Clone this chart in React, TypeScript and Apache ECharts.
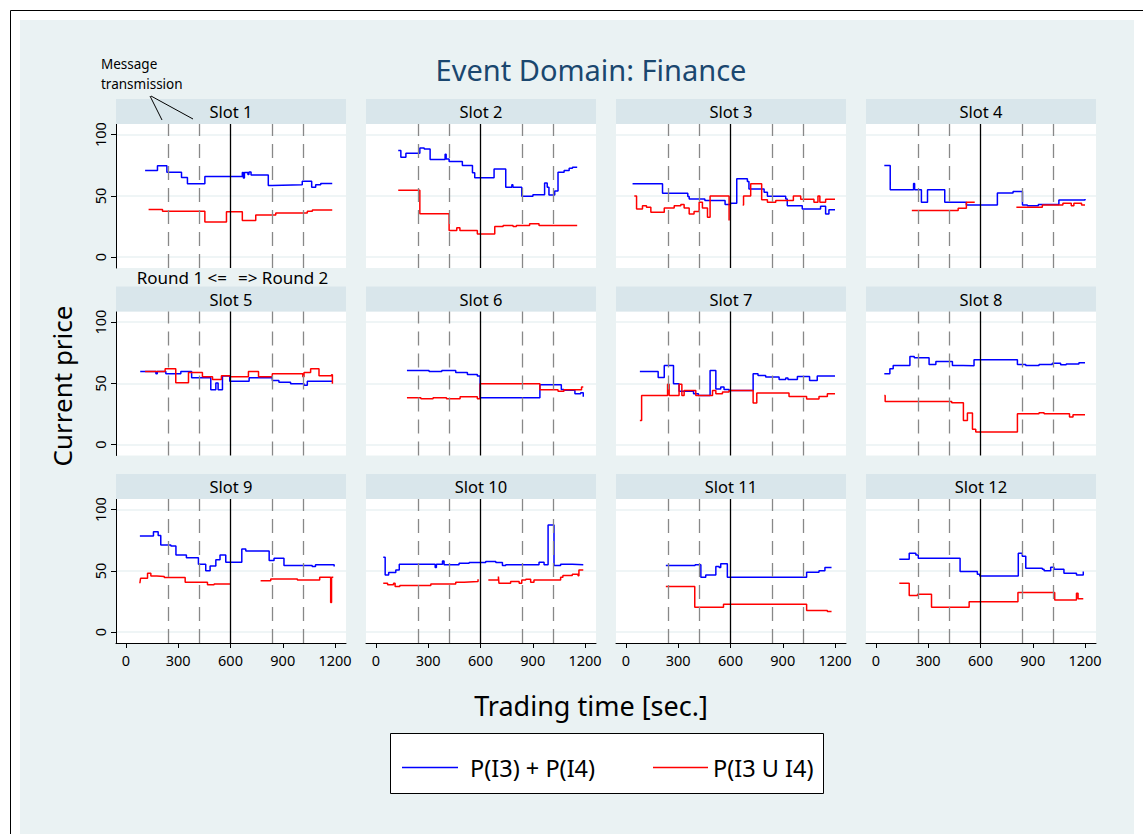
import React, { useEffect, useRef } from 'react';
import * as echarts from 'echarts';

const FONT = '"Noto Sans", "DejaVu Sans", sans-serif';

const slotNames = ['Slot 1', 'Slot 2', 'Slot 3', 'Slot 4', 'Slot 5', 'Slot 6', 'Slot 7', 'Slot 8', 'Slot 9', 'Slot 10', 'Slot 11', 'Slot 12'];
const xTicks = [0, 300, 600, 900, 1200];
const yTicks = [0, 50, 100];
const dashedRefs = [240, 420, 840, 1020];
const solidRef = 600;
const legendLabels = ['P(I3) + P(I4)', 'P(I3 U I4)'];

// [time (sec), price]; null = gap
const blue1 = [[110,70.7],[181,74.5],[235,69.3],[319,65],[353,59.8],[453,65.8],[668,69],[674,64.5],[680,69],[700,67.5],[706,69.5],[718,67],[817,58.5],[840,59],[1012,62],[1066,57],[1089,59],[1118,60],[1184,60]];
const red1 = [[130,38.9],[210,37.5],[453,28.8],[577,37],[668,30],[745,34.5],[860,36],[1041,37.5],[1070,38.5],[1184,38.5]];
const blue2 = [[128,87],[143,81.5],[172,84.8],[252,89.1],[277,88.3],[311,79.6],[397,84],[403,80],[420,78],[496,74.7],[554,68.8],[567,64.7],[678,72],[745,57],[780,59],[786,57],[837,49.7],[901,51],[968,60.6],[983,57],[993,50.8],[1026,54],[1045,69.3],[1080,70.6],[1109,72.5],[1128,73.3],[1155,73.3]];
const red2 = [[128,54.6],[252,35.4],[420,21.8],[464,24],[482,21.8],[582,19],[682,25],[730,25.8],[787,25],[806,25.8],[882,27.2],[936,25.8],[1155,25.8]];
const blue3 = [[38,59.8],[210,52.2],[355,49.4],[363,47.5],[453,46.2],[569,42.9],[600,44],[636,63.9],[697,61.7],[706,55.7],[793,53],[812,49.7],[917,47.5],[926,42],[1012,39.4],[1117,41.5],[1146,35.3],[1165,38.6],[1200,38.6]];
const red3 = [[48,49.8],[61,39.4],[95,42],[118,40.8],[143,36.7],[220,40.2],[277,42],[315,42.9],[334,40.2],[363,35.3],[391,37.2],[420,44.8],[439,40.2],[468,32.6],[483,49.8],[592,29.9],[600,null],[670,42.6],[675,49.8],[716,59.8],[779,46.9],[812,44.8],[860,46.2],[961,49.8],[1003,47.2],[1079,44.8],[1102,49.8],[1113,44.8],[1146,47.2],[1200,47.2]];
const blue4 = [[48,74.7],[82,54.9],[216,60],[222,54.9],[261,44.8],[296,54.9],[395,44.8],[519,42.6],[697,52.4],[787,53.5],[841,42.6],[869,42],[932,42.9],[1050,46.7],[1200,47.5]];
const red4 = [[206,38],[472,40],[519,44.8],[567,44.8],[580,null],[806,40.8],[955,42.6],[1073,44],[1121,42],[1136,44],[1180,42.6],[1200,42.6]];
const blue5 = [[82,59.7],[172,57.8],[180,59.7],[229,57.8],[315,59.7],[377,54.6],[487,44.8],[516,50.3],[529,44.8],[554,56],[596,51.8],[707,54.6],[840,52.3],[878,51],[945,49.7],[1022,48.4],[1041,51.8],[1184,51.8]];
const red5 = [[110,59.7],[225,61.9],[286,50.5],[359,58.9],[439,55.4],[497,53.2],[548,56.2],[596,55.4],[703,59.7],[761,55.4],[840,57.8],[1015,55.4],[1022,58.9],[1060,61.9],[1108,56.2],[1180,57],[1185,49.7]];
const blue6 = [[178,60.6],[305,59.7],[378,60.6],[458,58.9],[525,57.3],[582,56],[598,38.3],[941,48.8],[1064,45],[1079,44.3],[1142,41.5],[1175,42.4],[1190,39]];
const red6 = [[178,38.3],[258,37.5],[328,38.3],[405,37.5],[483,39],[582,37.5],[598,49.7],[941,44.8],[1045,43.5],[1079,44.8],[1180,47],[1190,47]];
const blue7 = [[80,59.7],[185,54.8],[220,64.6],[273,49.7],[305,43.5],[388,41.6],[416,40.2],[483,60.6],[516,45.5],[544,47],[563,45],[592,44.2],[730,57.8],[758,56.4],[802,55.1],[879,53.2],[917,54.3],[930,53.2],[984,55.6],[1054,52.3],[1098,56],[1200,56]];
const red7 = [[80,19.8],[90,40.2],[239,49.2],[248,40.2],[305,49.2],[321,40.2],[334,44.2],[401,40.2],[497,44.2],[516,41.6],[554,43],[592,44.2],[730,34.1],[751,42.1],[936,39.4],[1037,37.2],[1108,39.4],[1156,41.6],[1200,41.6]];
const blue8 = [[48,57.8],[80,61.9],[99,64.6],[195,72],[220,70.9],[305,65.4],[344,67.9],[439,64.6],[500,64.4],[563,69.2],[812,65.4],[860,64.6],[936,65.4],[1012,66.5],[1060,65.1],[1092,65.7],[1165,66.8],[1200,66.8]];
const red8 = [[48,40.2],[53,35.3],[435,34.2],[502,19.8],[525,25.8],[554,12.5],[573,10.3],[812,25.2],[936,26],[965,25.2],[1111,22.5],[1131,24.4],[1200,24.4]];
const blue9 = [[80,78.5],[158,82],[185,78.8],[200,71],[258,70.2],[287,63],[347,60.8],[416,55.4],[458,50.2],[483,54],[516,59],[540,63],[573,57],[665,67.9],[688,66.3],[822,58.4],[850,60.3],[907,54.3],[1069,53.5],[1088,54.9],[1184,54.9],[1195,53.5]];
const red9 = [[80,39.9],[84,44],[124,48.1],[143,45.9],[177,45.4],[220,44.6],[340,40.8],[468,38.6],[506,39.4],[597,39.4],[600,null],[773,42],[831,43.4],[984,42.6],[1112,44.8],[1175,24.3],[1180,44.8],[1190,44.8]];
const blue10 = [[42,61.1],[53,46.7],[73,48.6],[114,50.8],[134,55.4],[340,52.7],[347,55.4],[382,58],[391,54.9],[477,56.2],[535,56.8],[630,57.6],[688,56.8],[726,54.3],[745,54.9],[936,57],[965,54.9],[988,87.4],[1022,54.3],[1060,55.4],[1127,54.9],[1190,55.4]];
const red10 = [[42,39.9],[67,38.6],[101,39.9],[110,37.2],[137,38],[315,39.2],[458,40.8],[506,41.3],[586,43.2],[590,null],[645,42.6],[703,45.4],[706,39.9],[773,41.3],[822,39.9],[837,42.6],[860,43.2],[888,40.8],[907,42.6],[1060,44.8],[1073,46.2],[1127,47.3],[1160,46],[1165,50.8],[1190,50.8]];
const blue11 = [[229,54.3],[397,54.9],[430,44.8],[458,46.7],[516,53.5],[535,52.7],[544,55.9],[582,44.8],[1037,48.9],[1108,50.2],[1142,52.7],[1180,52.7]];
const red11 = [[229,37.2],[395,20.4],[560,22.8],[1037,17.6],[1156,16.8],[1180,16.8]];
const blue12 = [[134,59.5],[191,64.4],[229,63],[243,60.3],[483,49.4],[582,47.3],[596,45.9],[817,64.4],[840,62],[860,52.2],[955,51.4],[965,50.2],[1003,52.9],[1022,51.4],[1079,48.1],[1151,46.7],[1190,49.5]];
const red12 = [[134,39.9],[191,29.9],[239,31],[319,20.4],[535,24.9],[815,32.3],[1026,26.3],[1151,31.8],[1160,27.2],[1190,27.2]];

const blueSeries = [blue1, blue2, blue3, blue4, blue5, blue6, blue7, blue8, blue9, blue10, blue11, blue12];
const redSeries = [red1, red2, red3, red4, red5, red6, red7, red8, red9, red10, red11, red12];

const BLUE = '#0000ff';
const RED = '#ff0000';
const BG = '#eaf2f3';
const HEADER = '#d9e6eb';

function splitSegments(arr: (number | null)[][]) {
  const segs: number[][][] = [];
  let cur: number[][] = [];
  for (const p of arr) {
    if (p[1] === null) {
      if (cur.length) segs.push(cur);
      cur = [];
    } else {
      cur.push(p as number[]);
    }
  }
  if (cur.length) segs.push(cur);
  return segs;
}

function buildOption() {
  const grids: any[] = [];
  const xAxes: any[] = [];
  const yAxes: any[] = [];
  const series: any[] = [];
  const elements: any[] = [];

  // backgrounds
  elements.push({ type: 'rect', z: -20, shape: { x: 10.5, y: 10.5, width: 1160, height: 900 }, style: { fill: '#fff', stroke: '#000', lineWidth: 1 } });
  elements.push({ type: 'rect', z: -19, shape: { x: 20, y: 20, width: 1114, height: 830 }, style: { fill: BG } });

  for (let i = 0; i < 12; i++) {
    const r = Math.floor(i / 4);
    const c = i % 4;
    const left = 116 + 250 * c;
    const top = 124 + 187.5 * r;
    grids.push({ left, top, width: 230, height: 144, show: true, backgroundColor: '#fff', borderWidth: 0, containLabel: false });
    xAxes.push({
      type: 'value', gridIndex: i, min: -57, max: 1263,
      axisLine: { show: r === 2, onZero: false, lineStyle: { color: '#000', width: 1 } },
      axisTick: { show: r === 2, customValues: xTicks, length: 5, lineStyle: { color: '#000' } },
      axisLabel: { show: r === 2, customValues: xTicks, formatter: (v: number) => String(v), color: '#000', fontSize: 14.5, fontFamily: FONT, margin: 9 },
      splitLine: { show: false },
    });
    yAxes.push({
      type: 'value', gridIndex: i, min: -8.8, max: 108.6,
      axisLine: { show: c === 0, onZero: false, lineStyle: { color: '#000', width: 1 } },
      axisTick: { show: c === 0, customValues: yTicks, length: 5, lineStyle: { color: '#000' } },
      axisLabel: { show: c === 0, customValues: yTicks, formatter: (v: number) => String(v), rotate: 90, color: '#000', fontSize: 14.5, fontFamily: FONT, margin: 9 },
      splitLine: { show: true, lineStyle: { color: BG, width: 1.5 } },
    });
    // reference lines
    series.push({
      type: 'line', xAxisIndex: i, yAxisIndex: i, data: [], silent: true, z: 1,
      markLine: {
        silent: true, symbol: ['none', 'none'], label: { show: false }, animation: false,
        data: [
          ...dashedRefs.map((v) => ({ xAxis: v, lineStyle: { type: [14, 8], color: '#888', width: 1.3 } })),
          { xAxis: solidRef, lineStyle: { type: 'solid', color: '#000', width: 1.3 } },
        ],
      },
    });
    const addSeries = (arr: any[], color: string, name: string) => {
      for (const seg of splitSegments(arr)) {
        series.push({
          type: 'line', name, xAxisIndex: i, yAxisIndex: i, data: seg, step: 'end',
          showSymbol: false, symbol: 'none', silent: true, z: 3,
          lineStyle: { color, width: 1.5 },
        });
      }
    };
    addSeries(blueSeries[i], BLUE, legendLabels[0]);
    addSeries(redSeries[i], RED, legendLabels[1]);

    // header strip
    elements.push({ type: 'rect', z: 5, shape: { x: left, y: top - 25, width: 230, height: 25 }, style: { fill: HEADER } });
    elements.push({ type: 'text', z: 6, x: left + 115, y: top - 12.5, style: { text: slotNames[i], font: `16.5px ${FONT}`, fill: '#000', textAlign: 'center', textVerticalAlign: 'middle' } });
  }

  // title & axis titles
  elements.push({ type: 'text', z: 6, x: 591, y: 69, style: { text: 'Event Domain: Finance', font: `29px ${FONT}`, fill: '#1a476f', textAlign: 'center', textVerticalAlign: 'middle' } });
  elements.push({ type: 'text', z: 6, x: 591, y: 705, style: { text: 'Trading time [sec.]', font: `27px ${FONT}`, fill: '#000', textAlign: 'center', textVerticalAlign: 'middle' } });
  elements.push({ type: 'text', z: 6, x: 62, y: 386, rotation: Math.PI / 2, style: { text: 'Current price', font: `26px ${FONT}`, fill: '#000', textAlign: 'center', textVerticalAlign: 'middle' } });

  // annotations
  elements.push({ type: 'text', z: 6, x: 101, y: 64, style: { text: 'Message', font: `13.5px ${FONT}`, fill: '#000', textAlign: 'left', textVerticalAlign: 'middle' } });
  elements.push({ type: 'text', z: 6, x: 101, y: 83.5, style: { text: 'transmission', font: `13.5px ${FONT}`, fill: '#000', textAlign: 'left', textVerticalAlign: 'middle' } });
  elements.push({ type: 'line', z: 6, shape: { x1: 150, y1: 96, x2: 162, y2: 120 }, style: { stroke: '#000', lineWidth: 1 } });
  elements.push({ type: 'line', z: 6, shape: { x1: 151, y1: 96, x2: 193, y2: 119 }, style: { stroke: '#000', lineWidth: 1 } });
  elements.push({ type: 'text', z: 6, x: 227, y: 277.5, style: { text: 'Round 1 <=', font: `17px ${FONT}`, fill: '#000', textAlign: 'right', textVerticalAlign: 'middle' } });
  elements.push({ type: 'text', z: 6, x: 238, y: 277.5, style: { text: '=> Round 2', font: `17px ${FONT}`, fill: '#000', textAlign: 'left', textVerticalAlign: 'middle' } });

  // legend
  elements.push({ type: 'rect', z: 6, shape: { x: 390.5, y: 733.5, width: 433, height: 60 }, style: { fill: '#fff', stroke: '#000', lineWidth: 1 } });
  elements.push({ type: 'line', z: 7, shape: { x1: 402, y1: 767.5, x2: 458, y2: 767.5 }, style: { stroke: BLUE, lineWidth: 1.6 } });
  elements.push({ type: 'text', z: 7, x: 470, y: 768, style: { text: legendLabels[0], font: `23.5px ${FONT}`, fill: '#000', textAlign: 'left', textVerticalAlign: 'middle' } });
  elements.push({ type: 'line', z: 7, shape: { x1: 653, y1: 767.5, x2: 708, y2: 767.5 }, style: { stroke: RED, lineWidth: 1.6 } });
  elements.push({ type: 'text', z: 7, x: 713, y: 768, style: { text: legendLabels[1], font: `23.5px ${FONT}`, fill: '#000', textAlign: 'left', textVerticalAlign: 'middle' } });

  return {
    animation: false,
    backgroundColor: 'transparent',
    textStyle: { fontFamily: FONT },
    grid: grids,
    xAxis: xAxes,
    yAxis: yAxes,
    series,
    graphic: { elements },
  };
}

export default function App() {
  const ref = useRef<HTMLDivElement>(null);
  useEffect(() => {
    if (!ref.current) return;
    const chart = echarts.init(ref.current, undefined, { renderer: 'svg' });
    chart.setOption(buildOption() as any);
    return () => chart.dispose();
  }, []);
  return <div ref={ref} style={{ position: 'fixed', left: 0, top: 0, width: 1143, height: 834, background: '#fff' }} />;
}
